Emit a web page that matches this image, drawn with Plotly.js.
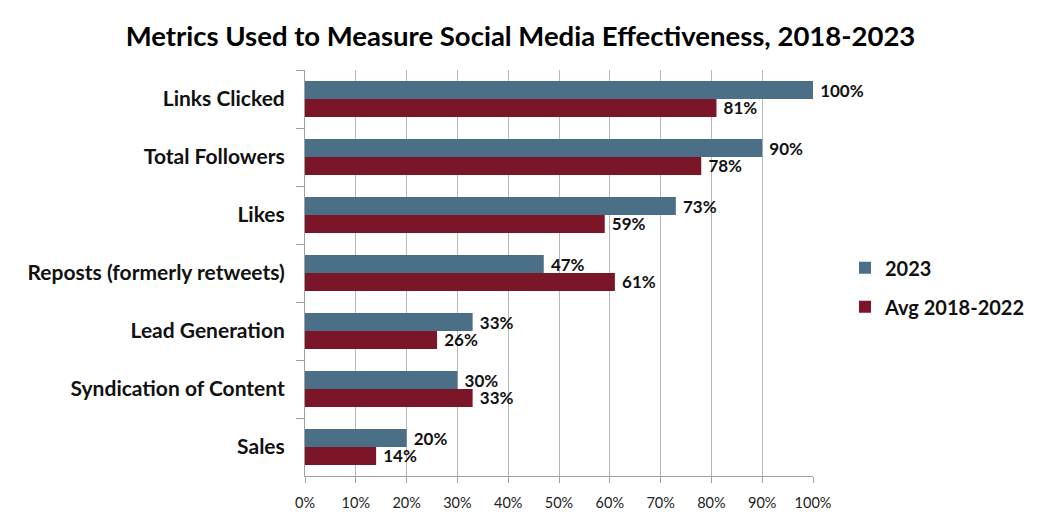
<!DOCTYPE html>
<html>
<head>
<meta charset="utf-8">
<script src="https://cdn.plot.ly/plotly-3.0.1.min.js"></script>
<style>html,body{margin:0;padding:0;background:#fff;}#chart{width:1041px;height:520px;}</style>
</head>
<body>
<div id="chart"></div>
<script>
const categories = ["Links Clicked", "Total Followers", "Likes", "Reposts (formerly retweets)", "Lead Generation", "Syndication of Content", "Sales"];
const values2023 = [100, 90, 73, 47, 33, 30, 20];
const valuesAvg = [81, 78, 59, 61, 26, 33, 14];
const seriesNames = ["2023", "Avg 2018-2022"];
const xTicks = [0, 10, 20, 30, 40, 50, 60, 70, 80, 90, 100];

const FONT = "Lato, 'Open Sans', sans-serif";
const labelFont = {family: FONT, size: 17, color: "#111", weight: 700};
const pad = "\u00a0";

const traces = [
  {type: "bar", orientation: "h", name: seriesNames[0], y: categories, x: values2023,
   marker: {color: "#4b6f86"}, text: values2023.map(v => pad + v + "%"), textposition: "outside",
   textfont: labelFont, cliponaxis: false, constraintext: "none", legendgroup: "a", hoverinfo: "x+y"},
  {type: "bar", orientation: "h", name: seriesNames[1], y: categories, x: valuesAvg,
   marker: {color: "#7b1528"}, text: valuesAvg.map(v => pad + v + "%"), textposition: "outside",
   textfont: labelFont, cliponaxis: false, constraintext: "none", legendgroup: "b", hoverinfo: "x+y"}
];

const layout = {
  width: 1041, height: 520,
  margin: {l: 305, r: 228, t: 70, b: 44, autoexpand: false},
  paper_bgcolor: "#fff", plot_bgcolor: "#fff",
  font: {family: FONT, color: "#111"},
  title: {text: "Metrics Used to Measure Social Media Effectiveness, 2018-2023",
          x: 0.5, xref: "container", y: 0.93, yref: "container", yanchor: "middle",
          font: {family: FONT, size: 27.5, color: "#000", weight: 700}},
  barmode: "group", bargap: 0.38, bargroupgap: 0,
  xaxis: {range: [0, 100], tickvals: xTicks, ticktext: xTicks.map(v => v + "%"),
          showgrid: true, gridcolor: "#b8b8b8", gridwidth: 1,
          showline: true, linecolor: "#a0a0a0", ticks: "outside", ticklen: 6, tickcolor: "#a0a0a0",
          ticklabelstandoff: 8, automargin: false,
          tickfont: {family: FONT, size: 14.5, color: "#222"}, zeroline: false, fixedrange: true},
  yaxis: {autorange: "reversed", showline: true, linecolor: "#a0a0a0",
          ticks: "outside", ticklen: 8, tickcolor: "#a0a0a0", tickson: "boundaries",
          showgrid: false, ticklabelstandoff: 15, automargin: false,
          tickfont: {family: FONT, size: 21, color: "#111", weight: 700}, fixedrange: true},
  showlegend: true,
  legend: {x: 1.063, y: 0.465, xanchor: "left", yanchor: "middle", traceorder: "grouped",
           tracegroupgap: 10, font: {family: FONT, size: 20, color: "#111", weight: 700},
           bgcolor: "rgba(0,0,0,0)"}
};

Plotly.newPlot("chart", traces, layout, {displayModeBar: false, staticPlot: true});
</script>
</body>
</html>
